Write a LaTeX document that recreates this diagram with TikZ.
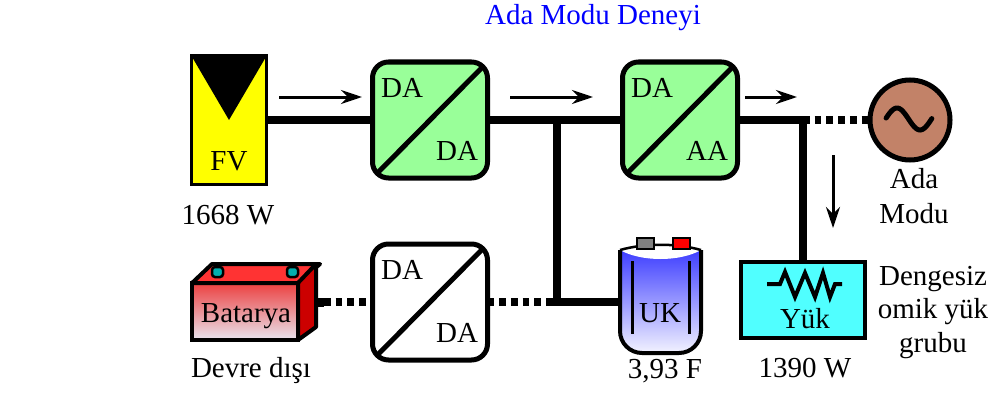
\documentclass[tikz,border=0pt]{standalone}
\usepackage{fontspec}
\setmainfont{Liberation Serif}
\usetikzlibrary{arrows.meta}

\definecolor{dcgreen}{RGB}{153,255,153}
\definecolor{pvyellow}{RGB}{255,255,0}
\definecolor{gridbrown}{RGB}{194,130,104}
\definecolor{loadcyan}{RGB}{80,255,255}
\definecolor{battop}{RGB}{255,51,51}
\definecolor{batside}{RGB}{204,0,0}
\definecolor{batfront}{RGB}{236,64,64}
\definecolor{batlight}{RGB}{232,228,238}
\definecolor{ukblue}{RGB}{50,50,255}
\definecolor{termteal}{RGB}{0,175,175}

\begin{document}
\begin{tikzpicture}[x=1pt,y=-1pt,
  every node/.style={font=\fontsize{29}{34}\selectfont,inner sep=0pt,outer sep=0pt},
  txt/.style={anchor=base},
  bus/.style={line width=7.5pt},
  off/.style={line width=7.5pt,dash pattern=on 6.7pt off 5pt},
  flow/.style={line width=3pt,-{Stealth[length=21pt,width=14pt]}},
  conv/.style={draw,line width=5pt,rounded corners=16pt,minimum width=115pt,minimum height=116pt,
    path picture={\draw[black,line width=5pt] (path picture bounding box.south west) -- (path picture bounding box.north east);}},
]
\useasboundingbox (0,0) rectangle (995,396);

\node[txt,text=blue] (title) at (593,25) {Ada Modu Deneyi};

% PV panel
\node[draw,line width=3pt,fill=pvyellow,minimum width=75pt,minimum height=128pt,
  path picture={\fill[black] (path picture bounding box.north west) -- (path picture bounding box.north east)
    -- (path picture bounding box.center) -- cycle;}] (fv) at (229,120) {};
\node[txt] (fv-lbl) at (229,170) {FV};
\node[txt] (fv-pw) at (228,224) {1668 W};

% converters
\foreach \n/\x/\y/\f/\a/\b in {dc1/430/120/dcgreen/DA/DA, dc2/680/120/dcgreen/DA/AA, dc3/430/302/white/DA/DA}{
  \node[conv,fill=\f] (\n) at (\x,\y) {};
  \node[txt] (\n-in) at (\x-28,\y-23) {\a};
  \node[txt] (\n-out) at (\x+27,\y+40) {\b};
}

% grid and load
\node[circle,draw,line width=5pt,fill=gridbrown,minimum size=80pt] (grid) at (910,120) {};
\node[draw,line width=4pt,fill=loadcyan,minimum width=124pt,minimum height=76pt] (load) at (803,300) {};
\node[minimum width=81pt,minimum height=103pt] (uk) at (660,302) {};

% battery front face
\node[draw,line width=4pt,top color=batfront,bottom color=batlight,minimum width=106pt,minimum height=57pt] (bat) at (245,311.5) {};
\coordinate (bat-term) at (324,302);

% buses
\coordinate (jn) at (557,120);
\draw[bus] (fv.east) -- (dc1.west);
\draw[bus] (dc1.east) -- (dc2.west);
\draw[bus] (dc2.east) -| (load.north);
\draw[bus] (jn) |- (uk.west);
\draw[off] (load.north |- dc2.east) -- (grid.west);
\draw[off] (bat-term) -- (dc3.west);
\draw[off] (dc3.east) -- (dc3.east -| jn);

% power flow
\draw[flow] (279,97) -- (362,97);
\draw[flow] (510,97) -- (593,97);
\draw[flow] (745,97) -- (797,97);
\draw[flow] (833,155) -- (833,228);

% grid source symbol
\draw[line width=5pt,line cap=round] plot[domain=5:362,samples=40] ({897+(\x-90)*0.128},{119-11*sin(\x)});
\node[txt] (grid-a) at (914,188) {Ada};
\node[txt] (grid-b) at (914,223) {Modu};

% resistor
\draw[line width=4pt,line join=miter] (767,284) -- (780,284) -- (785,272) -- (795,297) -- (805,273)
  -- (815,297) -- (823,273) -- (830,297) -- (835,284) -- (842,284);
\node[txt] (load-lbl) at (805,328) {Yük};
\node[txt] (load-pw) at (805,377) {1390 W};
\node[txt] (load-a) at (933,285) {Dengesiz};
\node[txt] (load-b) at (933,318) {omik yük};
\node[txt] (load-c) at (933,352) {grubu};

% battery box
\draw[line width=4pt,line join=round,fill=battop] (bat.north west) -- ++(20,-19) -- ++(108,0) -- (bat.north east) -- cycle;
\draw[line width=4pt,line join=round,fill=batside] (bat.north east) -- ++(18,-19) -- ++(0,63) -- (bat.south east) -- cycle;
\draw[line width=2.5pt,fill=termteal,rounded corners=3pt] (212,267) rectangle (223,277);
\draw[line width=2.5pt,fill=termteal,rounded corners=3pt] (287,267) rectangle (298,277);
\fill (318,298) rectangle (bat-term |- 0,307);
\node[txt] (bat-lbl) at (246,322) {Batarya};
\node[txt] (bat-st) at (251,377) {Devre dışı};

% ultracapacitor
\shade[top color=ukblue,bottom color=ukblue!6!white] (620,250) -- (620,300) [rounded corners=22pt] -- (620,353)
  -- (701,353) -- (701,300) [sharp corners] -- (701,250) .. controls (676,243) and (645,243) .. (620,250) -- cycle;
\fill[white] (620,250) .. controls (645,243) and (676,243) .. (701,250) .. controls (680,262) and (641,262) .. (620,250) -- cycle;
\draw[line width=4pt] (620,250) -- (620,300) [rounded corners=22pt] -- (620,353) -- (701,353) -- (701,300) [sharp corners] -- (701,250);
\draw[line width=2.5pt] (620,250) .. controls (645,243) and (676,243) .. (701,250);
\draw[line width=3pt] (632,261) -- (632,334) (689,261) -- (689,334);
\draw[line width=2pt,fill=gray] (637,238) rectangle (654,249);
\draw[line width=2pt,fill=red] (673,238) rectangle (690,249);
\node[txt] (uk-lbl) at (660,322) {UK};
\node[txt] (uk-val) at (665,378) {3,93 F};
\end{tikzpicture}
\end{document}
